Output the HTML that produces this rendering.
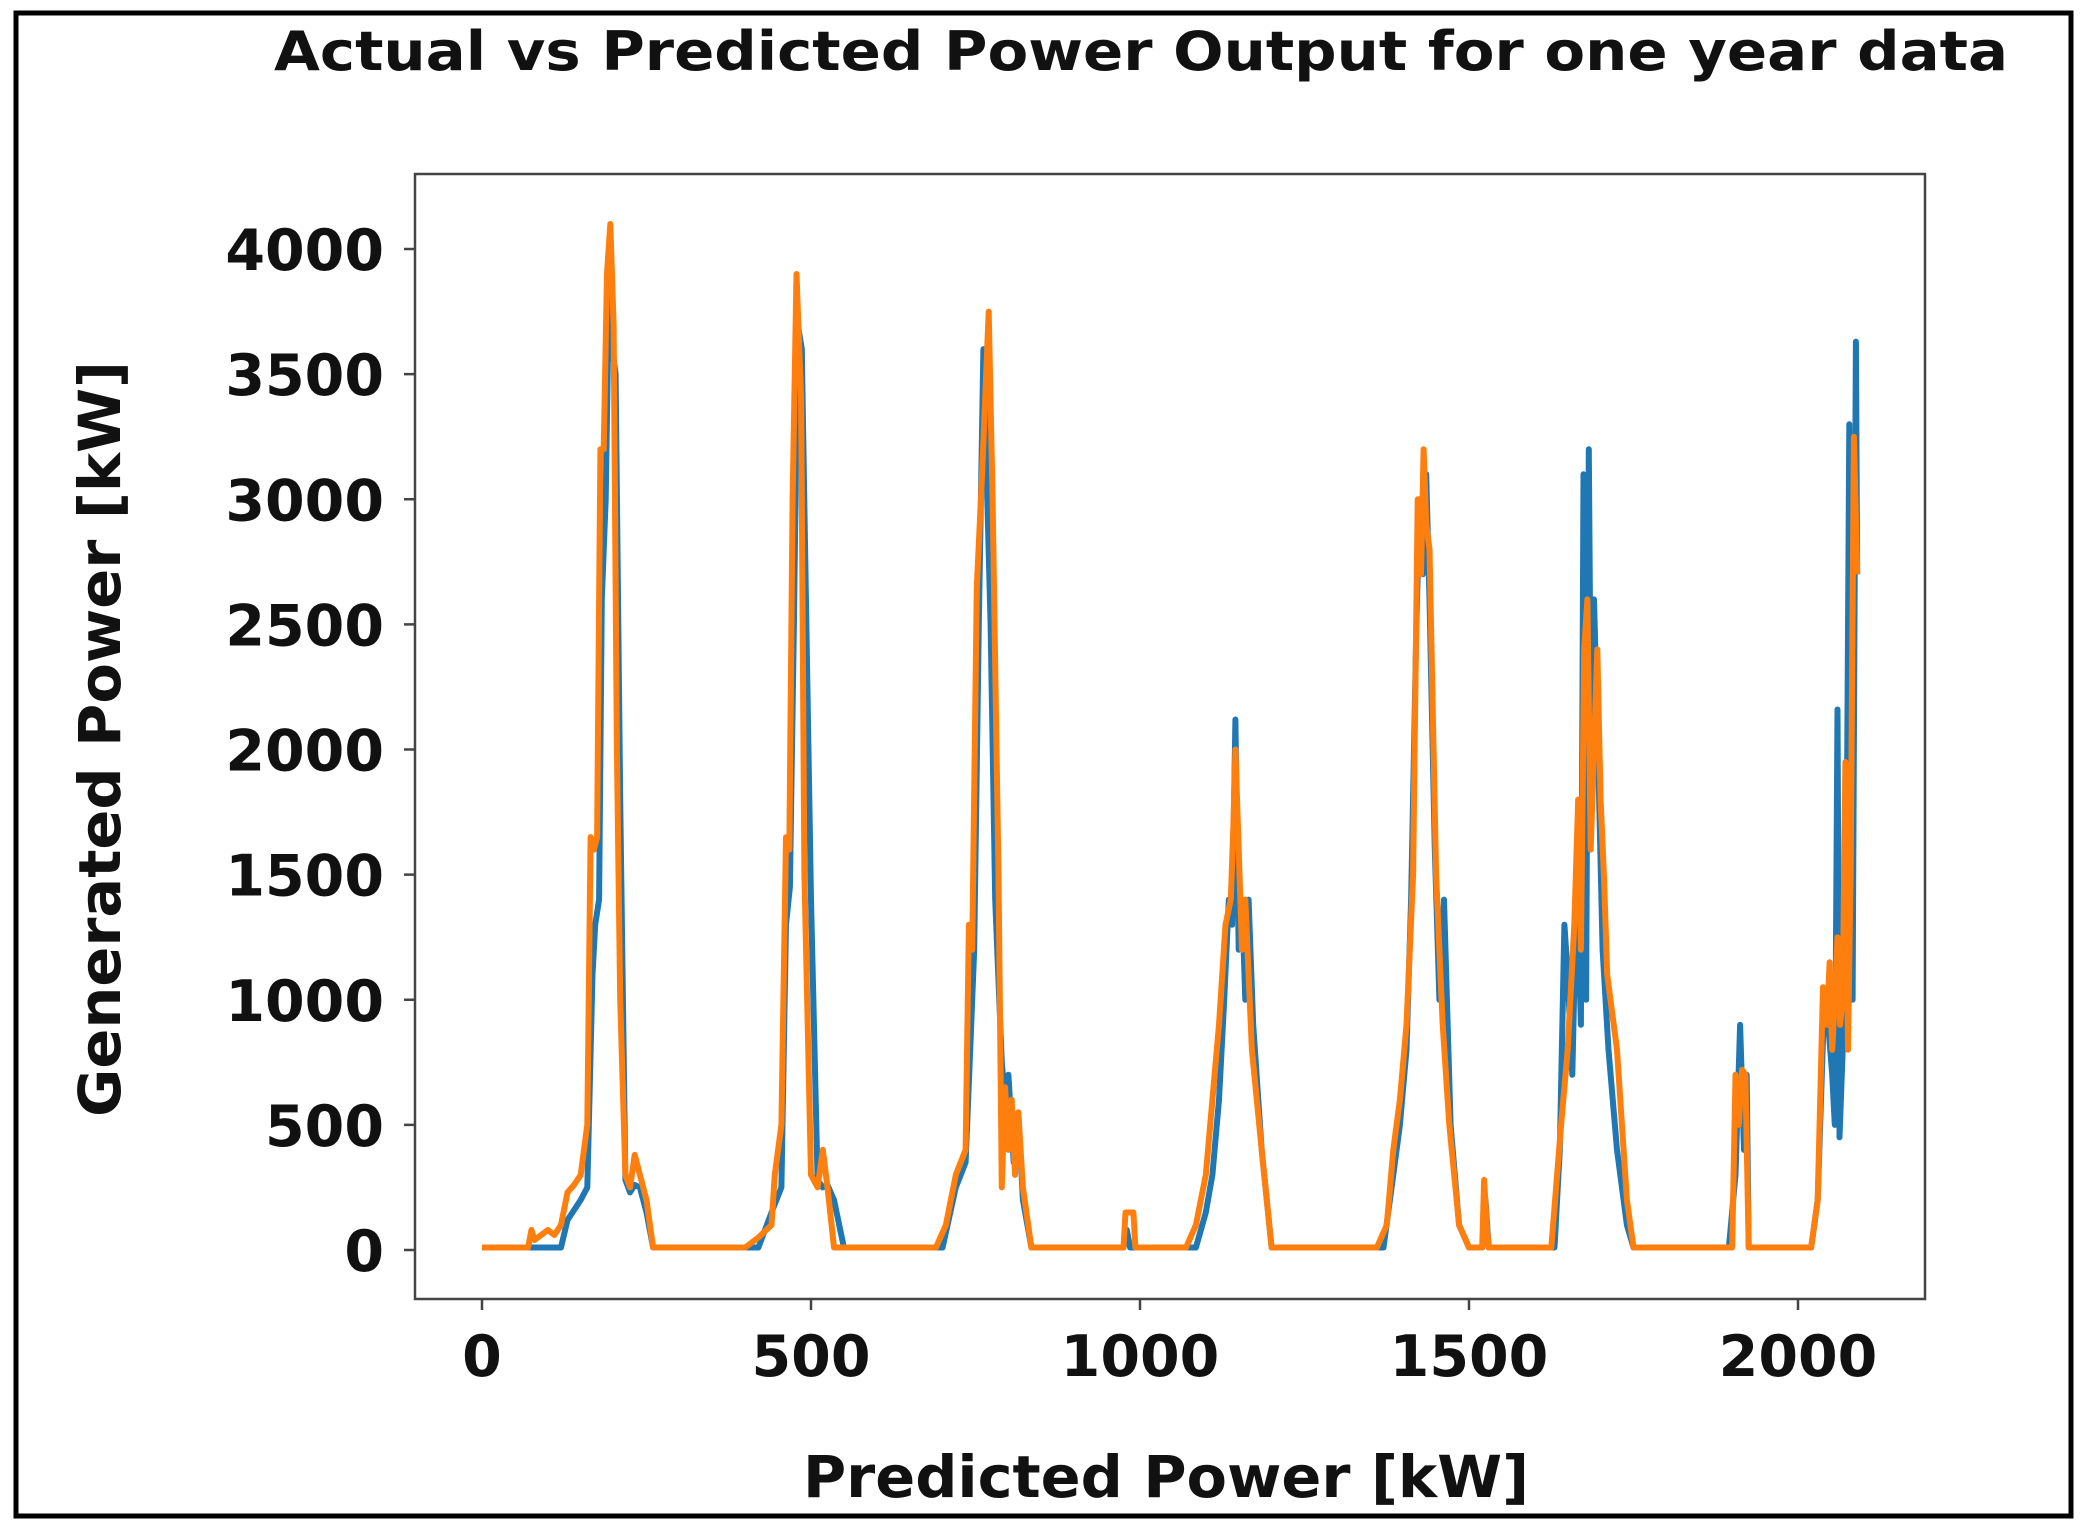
<!DOCTYPE html>
<html><head><meta charset="utf-8"><style>
html,body{margin:0;padding:0;background:#fff;}
svg{display:block;}
text{font-family:"DejaVu Sans","Liberation Sans",sans-serif;font-weight:bold;fill:#111;}
</style></head><body>
<svg id="chart" width="2087" height="1533" viewBox="0 0 2087 1533">
<rect x="16" y="13" width="2055" height="1503" fill="#fff" stroke="#000" stroke-width="5"/>
<text x="1141" y="70" font-size="54" text-anchor="middle" textLength="1734" lengthAdjust="spacingAndGlyphs">Actual vs Predicted Power Output for one year data</text>
<g id="plot"></g>
<rect x="415" y="174" width="1510" height="1125" fill="none" stroke="#444" stroke-width="2.5"/>
<g id="yticks"></g>
<g id="xticks"></g>
<text x="0" y="0" font-size="58" text-anchor="middle" textLength="756" lengthAdjust="spacingAndGlyphs" transform="translate(120,739) rotate(-90)">Generated Power [kW]</text>
<text x="1166" y="1497" font-size="58" text-anchor="middle" textLength="726" lengthAdjust="spacingAndGlyphs">Predicted Power [kW]</text>
</svg>
<script>
const xTicks=[0,500,1000,1500,2000];
const yTicks=[0,500,1000,1500,2000,2500,3000,3500,4000];
const actualX=[0,120,130,150,160,168,172,178,182,188,193,198,203,210,218,225,232,240,250,260,
420,440,455,462,468,474,480,486,491,500,510,518,525,535,550,
700,720,735,742,748,755,762,768,773,780,790,795,800,808,815,822,835,
975,980,985,993,
1085,1100,1110,1120,1128,1135,1140,1145,1150,1155,1160,1165,1172,1185,1200,
1370,1385,1395,1405,1412,1420,1425,1430,1435,1440,1448,1455,1462,1472,1485,1500,1520,1525,1530,
1630,1638,1645,1650,1657,1664,1670,1674,1678,1682,1686,1690,1696,1703,1712,1725,1740,1750,
1895,1905,1912,1918,1922,1925,
2020,2030,2040,2046,2052,2056,2060,2063,2068,2073,2078,2083,2088,2090];
const actualY=[10,10,120,200,250,1100,1300,1400,2600,3000,3850,3600,3500,1800,280,230,260,250,150,10,
10,150,250,1300,1450,2500,3700,3600,2800,1400,280,250,260,200,10,
10,250,350,800,1200,2500,3600,3000,2500,1400,750,600,700,350,550,200,10,
10,80,10,10,
10,150,300,600,1000,1400,1300,2120,1200,1400,1000,1400,900,400,10,
10,300,500,800,1400,2500,3000,2700,3100,2600,1600,1000,1400,500,100,10,10,200,10,
10,400,1300,1100,700,1500,900,3100,1000,3200,1800,2600,2000,1200,800,400,100,10,
10,300,900,400,700,10,
10,200,1000,900,700,500,2160,450,800,1200,3300,1000,3630,2700];
const predX=[0,70,75,80,90,100,110,120,130,140,150,160,165,170,175,180,185,190,195,200,205,210,218,225,232,240,250,260,
400,420,440,445,455,462,467,472,478,485,490,500,510,518,525,535,550,
690,705,720,735,740,745,752,760,770,776,785,790,795,800,805,810,815,822,835,
975,978,990,993,
1070,1085,1100,1110,1120,1130,1138,1142,1145,1150,1155,1160,1170,1185,1200,
1360,1375,1385,1395,1405,1415,1422,1427,1431,1435,1440,1450,1460,1470,1485,1500,1520,1523,1527,1530,
1625,1640,1650,1660,1666,1670,1675,1680,1685,1690,1695,1700,1705,1710,1725,1740,1750,
1890,1900,1905,1910,1915,1920,1925,
2020,2030,2038,2044,2048,2052,2056,2060,2064,2068,2072,2076,2080,2085,2090];
const predY=[10,10,80,40,60,80,60,100,230,260,300,500,1650,1600,1650,3200,3200,3900,4100,3700,2000,1000,300,250,380,300,200,10,
10,50,100,300,500,1650,1600,3000,3900,3400,1500,300,250,400,250,10,10,
10,100,300,400,1300,1200,2650,3100,3750,3000,1500,250,650,400,600,300,550,250,10,
10,150,150,10,
10,100,300,600,900,1300,1400,1700,2000,1600,1200,1400,800,400,10,
10,100,400,600,900,1500,3000,2700,3200,2900,2800,1500,900,500,100,10,10,280,100,10,
10,500,800,1300,1800,1200,2400,2600,1600,2000,2400,1800,1500,1100,800,200,10,
10,10,700,500,720,700,10,
10,200,1050,900,1150,800,1000,1250,900,1000,1950,800,1500,3250,2700];

const L=415,R=1925,T=174,B=1299;
const xs=v=>482+(v-0)*(1798-482)/2000;
const ys=v=>1250-(v-0)*(1250-249)/4000;
const NS="http://www.w3.org/2000/svg";
const plot=document.getElementById('plot');
function line(xa,ya,color,name){
  const n=Math.min(xa.length,ya.length);
  const pts=[];
  for(let i=0;i<n;i++)pts.push(xs(xa[i]).toFixed(1)+','+ys(ya[i]).toFixed(1));
  const p=document.createElementNS(NS,'polyline');
  p.setAttribute('points',pts.join(' '));
  p.setAttribute('fill','none');p.setAttribute('stroke',color);
  p.setAttribute('stroke-width','6');p.setAttribute('stroke-linejoin','round');
  
  
  plot.appendChild(p);
}
line(actualX,actualY,'#1f77b4','actual-power-line');
line(predX,predY,'#ff7f0e','predicted-power-line');
const yg=document.getElementById('yticks');
yTicks.forEach(v=>{
  const t=document.createElementNS(NS,'line');
  t.setAttribute('x1',L);t.setAttribute('x2',L-11);t.setAttribute('y1',ys(v));t.setAttribute('y2',ys(v));
  t.setAttribute('stroke','#444');t.setAttribute('stroke-width','2.5');
  
  
  yg.appendChild(t);
  const s=document.createElementNS(NS,'text');
  s.setAttribute('x',384);s.setAttribute('y',ys(v)+21);s.setAttribute('font-size','57');s.setAttribute('text-anchor','end');
  s.textContent=v;
  
  
  yg.appendChild(s);
});
const xg=document.getElementById('xticks');
xTicks.forEach(v=>{
  const t=document.createElementNS(NS,'line');
  t.setAttribute('x1',xs(v));t.setAttribute('x2',xs(v));t.setAttribute('y1',B);t.setAttribute('y2',B+11);
  t.setAttribute('stroke','#444');t.setAttribute('stroke-width','2.5');
  
  
  xg.appendChild(t);
  const s=document.createElementNS(NS,'text');
  s.setAttribute('x',xs(v));s.setAttribute('y',1376);s.setAttribute('font-size','57');s.setAttribute('text-anchor','middle');
  s.textContent=v;
  
  
  xg.appendChild(s);
});
</script>
</body></html>
